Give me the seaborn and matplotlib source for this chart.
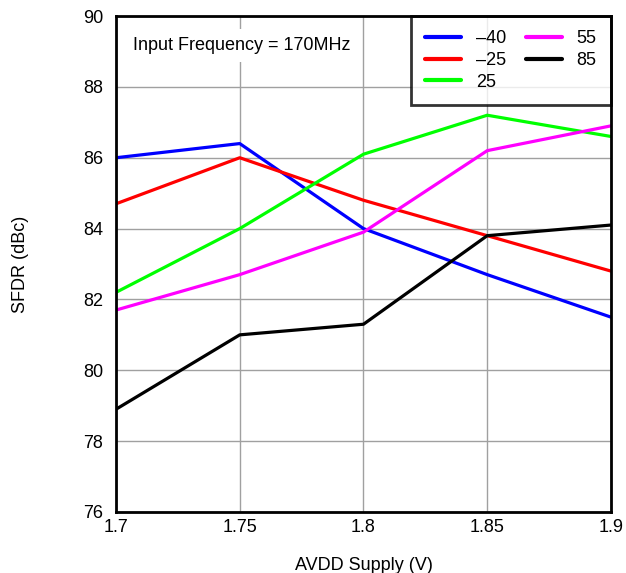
import matplotlib
matplotlib.use("Agg")
import matplotlib.pyplot as plt
import seaborn as sns
import pandas as pd
from matplotlib.lines import Line2D

supply = [1.7, 1.75, 1.8, 1.85, 1.9]
temps = ["\u201340", "\u201325", "25", "55", "85"]
sfdr_m40 = [86.0, 86.4, 84.0, 82.7, 81.5]
sfdr_m25 = [84.7, 86.0, 84.8, 83.8, 82.8]
sfdr_25 = [82.2, 84.0, 86.1, 87.2, 86.6]
sfdr_55 = [81.7, 82.7, 83.9, 86.2, 86.9]
sfdr_85 = [78.9, 81.0, 81.3, 83.8, 84.1]
colors = ["#0000ff", "#ff0000", "#00ff00", "#ff00ff", "#000000"]

series = [sfdr_m40, sfdr_m25, sfdr_25, sfdr_55, sfdr_85]
rows = []
for t, vals in zip(temps, series):
    for x, v in zip(supply, vals):
        rows.append({"supply": x, "sfdr": v, "temp": t})
df = pd.DataFrame(rows)

sns.set_style("white")
plt.rcParams['font.family'] = ['Liberation Sans', 'DejaVu Sans']
plt.rcParams['text.color'] = 'black'
plt.rcParams['axes.labelcolor'] = 'black'

fig = plt.figure(figsize=(6.26, 5.73), dpi=100)
ax = fig.add_axes([0.1853, 0.1065, 0.7907, 0.8655])

sns.lineplot(data=df, x="supply", y="sfdr", hue="temp", hue_order=temps,
             palette=dict(zip(temps, colors)), linewidth=2.3, ax=ax,
             legend=False, zorder=3)

FS = 13
ax.set_xlim(1.7, 1.9)
ax.set_ylim(76, 90)
ax.set_xticks(supply)
ax.set_xticklabels(["1.7", "1.75", "1.8", "1.85", "1.9"])
ax.set_yticks(range(76, 91, 2))
ax.grid(True, color="#a0a0a0", linewidth=1.0)
ax.tick_params(axis="both", labelsize=FS, length=0, colors="black")
ax.tick_params(axis="y", pad=9)
ax.tick_params(axis="x", pad=5)
for s in ax.spines.values():
    s.set_color("black")
    s.set_linewidth(2.0)
    s.set_zorder(7)

ax.set_xlabel("AVDD Supply (V)", fontsize=FS, labelpad=15)
ax.set_ylabel("SFDR (dBc)", fontsize=FS, labelpad=39)

handles = [Line2D([0], [0], color=c, linewidth=3.0) for c in colors]
leg = ax.legend(handles, temps, ncol=2, loc="upper right", fontsize=FS,
                frameon=True, fancybox=False, edgecolor="black",
                borderaxespad=0, handlelength=2.0, handletextpad=0.8,
                columnspacing=1.1, labelspacing=0.25, borderpad=0.8)
leg.get_frame().set_linewidth(2.0)
leg.set_zorder(5)

ax.text(0.035, 0.958, "Input Frequency = 170MHz", transform=ax.transAxes,
        fontsize=FS, va="top", ha="left", zorder=6,
        bbox=dict(facecolor="white", edgecolor="none", pad=6))

fig.savefig("out.png", dpi=100)
